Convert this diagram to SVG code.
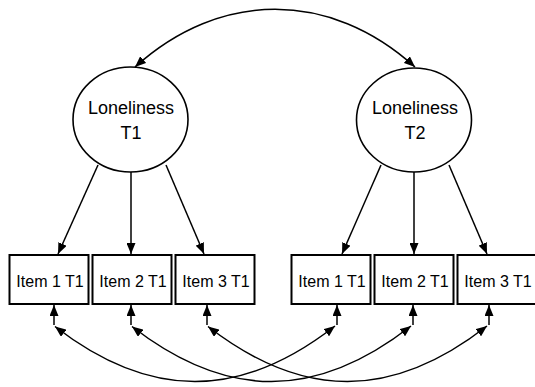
<svg xmlns="http://www.w3.org/2000/svg" width="535" height="387" viewBox="0 0 535 387">
  <style>
    .latent { fill: #ffffff; stroke: #000000; stroke-width: 1.6; }
    .item { fill: #ffffff; stroke: #000000; stroke-width: 2; }
    .t-lat { font-family: "Liberation Sans", Arial, sans-serif; font-size: 18px; fill: #000000; text-anchor: middle; }
    .t-item { font-family: "Liberation Sans", Arial, sans-serif; font-size: 16px; fill: #000000; text-anchor: middle; }
    .conn { fill: none; stroke: #000000; stroke-width: 1.5; }
  </style>
  <defs>
    <marker id="arrow" viewBox="0 0 11 9" refX="11" refY="4.5" markerWidth="11" markerHeight="9" markerUnits="userSpaceOnUse" orient="auto-start-reverse">
      <path d="M0,0 L11,4.5 L0,9 z" fill="#000000"/>
    </marker>
  </defs>
  <rect x="0" y="0" width="535" height="387" fill="#ffffff"/>

  <g id="connectors">
    <path class="conn" d="M135,67 C220,-10 330,-10 415,67" marker-start="url(#arrow)" marker-end="url(#arrow)"/>
    <line class="conn" x1="98" y1="165" x2="58" y2="254" marker-end="url(#arrow)"/>
    <line class="conn" x1="131" y1="172" x2="131" y2="254" marker-end="url(#arrow)"/>
    <line class="conn" x1="166" y1="165" x2="204" y2="254" marker-end="url(#arrow)"/>
    <line class="conn" x1="381" y1="165" x2="342" y2="254" marker-end="url(#arrow)"/>
    <line class="conn" x1="414" y1="172" x2="414" y2="254" marker-end="url(#arrow)"/>
    <line class="conn" x1="449" y1="165" x2="487" y2="254" marker-end="url(#arrow)"/>
    <line class="conn" x1="54" y1="325" x2="54" y2="305" marker-end="url(#arrow)"/>
    <line class="conn" x1="131" y1="325" x2="131" y2="305" marker-end="url(#arrow)"/>
    <line class="conn" x1="207" y1="325" x2="207" y2="305" marker-end="url(#arrow)"/>
    <line class="conn" x1="337" y1="325" x2="337" y2="305" marker-end="url(#arrow)"/>
    <line class="conn" x1="413" y1="325" x2="413" y2="305" marker-end="url(#arrow)"/>
    <line class="conn" x1="489" y1="325" x2="489" y2="305" marker-end="url(#arrow)"/>
    <path class="conn" d="M55,326.5 C150,400 240,400 335,326" marker-start="url(#arrow)" marker-end="url(#arrow)"/>
    <path class="conn" d="M132,326.5 C227,400 316,400 411,326" marker-start="url(#arrow)" marker-end="url(#arrow)"/>
    <path class="conn" d="M208,326.5 C303,400 392,400 487,326" marker-start="url(#arrow)" marker-end="url(#arrow)"/>
  </g>

  <g id="loneliness-t1">
    <ellipse class="latent" cx="130.5" cy="119.5" rx="57.5" ry="52.5"/>
    <text class="t-lat" x="131" y="114">Loneliness</text>
    <text class="t-lat" x="131" y="139">T1</text>
  </g>
  <g id="loneliness-t2">
    <ellipse class="latent" cx="414" cy="120" rx="57.5" ry="52"/>
    <text class="t-lat" x="415" y="114">Loneliness</text>
    <text class="t-lat" x="415" y="139">T2</text>
  </g>

  <g id="item1-t1">
    <rect class="item" x="9.5" y="255" width="79" height="49"/>
    <text class="t-item" x="50" y="286.5">Item 1 T1</text>
  </g>
  <g id="item2-t1">
    <rect class="item" x="92.5" y="255" width="79" height="49"/>
    <text class="t-item" x="133" y="286.5">Item 2 T1</text>
  </g>
  <g id="item3-t1">
    <rect class="item" x="175.5" y="255" width="79" height="49"/>
    <text class="t-item" x="216" y="286.5">Item 3 T1</text>
  </g>
  <g id="item1-t2">
    <rect class="item" x="291.5" y="255" width="79" height="49"/>
    <text class="t-item" x="332" y="286.5">Item 1 T1</text>
  </g>
  <g id="item2-t2">
    <rect class="item" x="374.5" y="255" width="79" height="49"/>
    <text class="t-item" x="415" y="286.5">Item 2 T1</text>
  </g>
  <g id="item3-t2">
    <rect class="item" x="457.5" y="255" width="79" height="49"/>
    <text class="t-item" x="498" y="286.5">Item 3 T1</text>
  </g>
</svg>
